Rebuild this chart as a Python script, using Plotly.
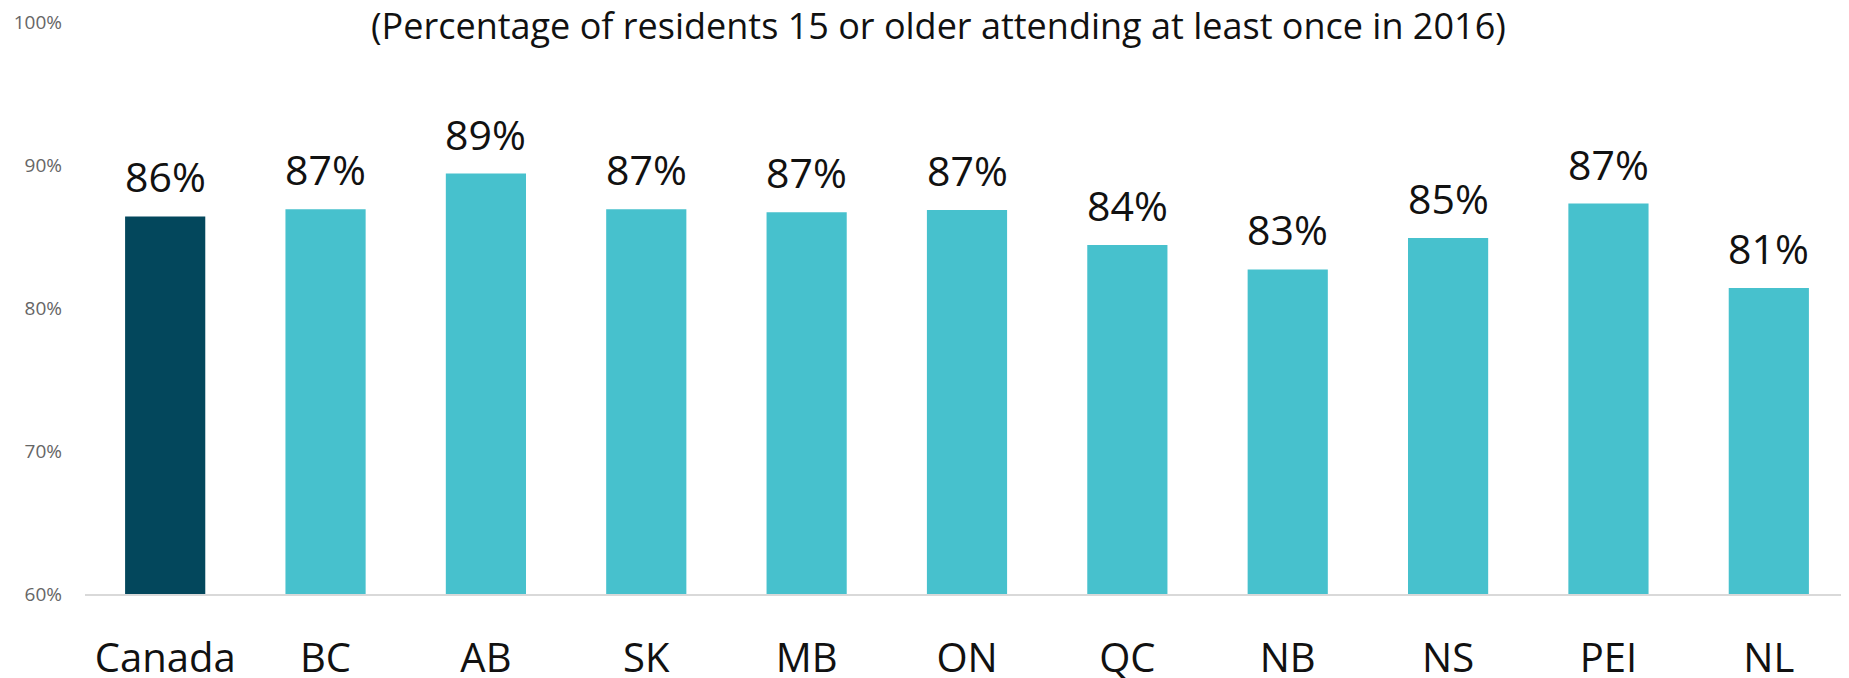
import plotly.graph_objects as go

categories = ["Canada", "BC", "AB", "SK", "MB", "ON", "QC", "NB", "NS", "PEI", "NL"]
values = [86.4, 86.9, 89.4, 86.9, 86.7, 86.85, 84.4, 82.7, 84.9, 87.3, 81.4]
bar_colors = ["#03475C"] + ["#47C1CD"] * 10
y_ticks = [60, 70, 80, 90, 100]
y_tick_labels = ["60%", "70%", "80%", "90%", "100%"]
title_text = "(Percentage of residents 15 or older attending at least once in 2016)"

FONT = "Open Sans, Segoe UI, sans-serif"

fig = go.Figure()
fig.add_trace(go.Bar(
    x=categories,
    y=values,
    marker=dict(color=bar_colors, line=dict(width=0)),
    hoverinfo="skip",
))

annotations = [
    dict(x=c, y=v, xref="x", yref="y", text=f"{round(v):d}%", showarrow=False,
         yanchor="bottom", yshift=10, font=dict(size=41, color="#111111", family=FONT))
    for c, v in zip(categories, values)
]
annotations.append(dict(
    text=title_text, xref="paper", yref="paper", x=0.484, y=1.0, xanchor="center",
    yanchor="middle", yshift=-3, showarrow=False,
    font=dict(size=36, color="#111111", family=FONT),
))

# the page body adds an 8px offset, so the figure is sized to end at the window edge
fig.update_layout(
    width=1841, height=670,
    margin=dict(l=77, r=0, t=14, b=84, autoexpand=False),
    paper_bgcolor="white", plot_bgcolor="white",
    bargap=0.5,
    showlegend=False,
    annotations=annotations,
    font=dict(family=FONT),
    xaxis=dict(
        range=[-0.5, 10.5], automargin=False,
        showline=True, linecolor="#D9D9D9", linewidth=2,
        showgrid=False, zeroline=False,
        tickfont=dict(size=40, color="#111111", family=FONT),
        ticks="", ticklabelstandoff=28,
    ),
    yaxis=dict(
        range=[60, 100], automargin=False,
        tickvals=y_ticks, ticktext=y_tick_labels,
        showgrid=False, zeroline=False, showline=False,
        tickfont=dict(size=19, color="#666666", family=FONT),
        ticks="", ticklabelstandoff=22,
    ),
)

fig.write_html("out.html")
